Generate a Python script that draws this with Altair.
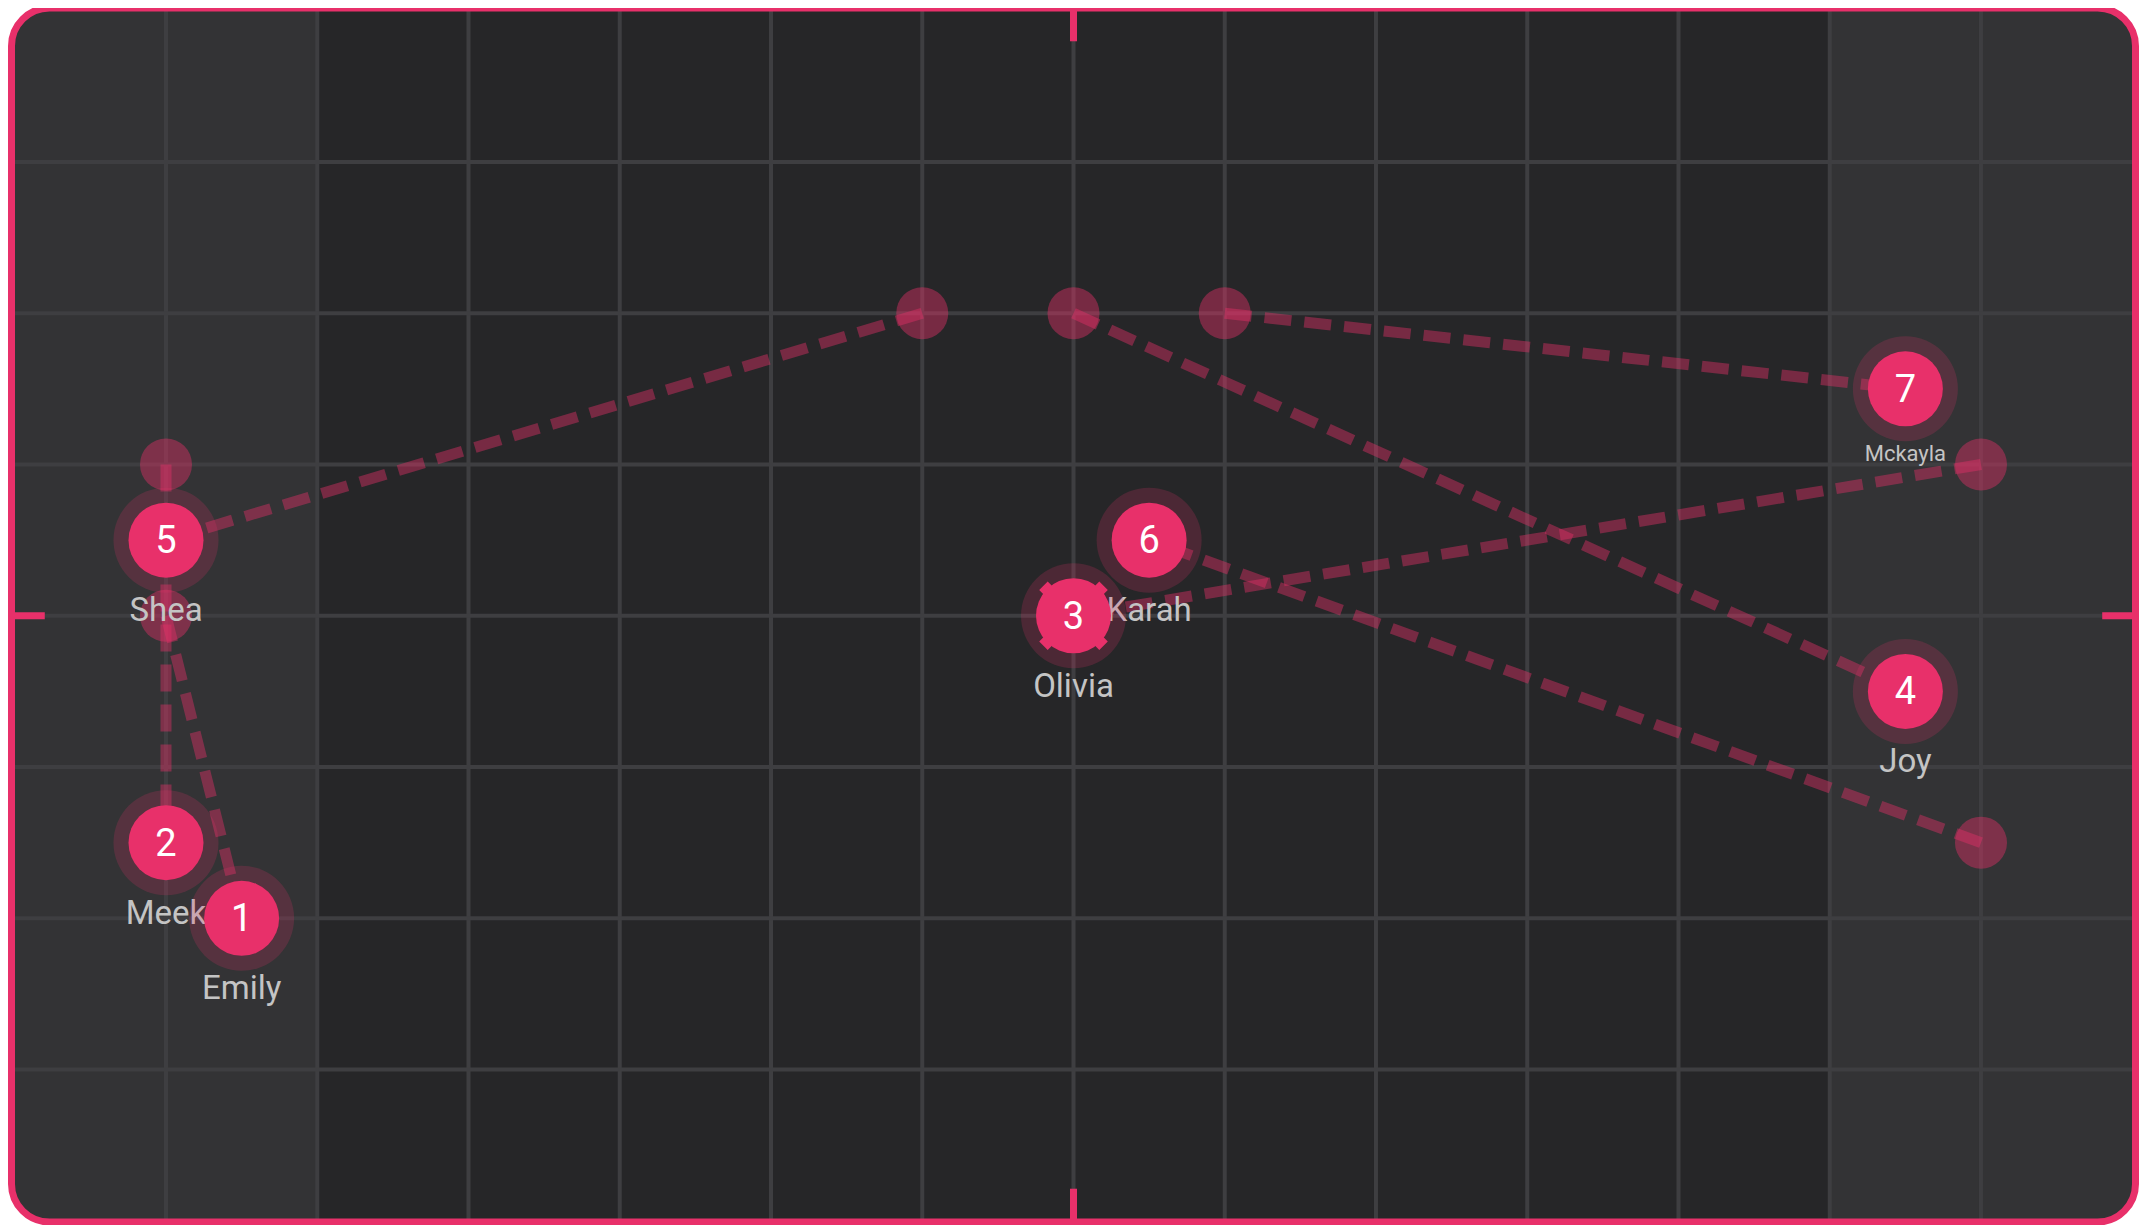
import math
import altair as alt
import pandas as pd

# ---------------- data ----------------
names = ["Emily", "Meek", "Olivia", "Joy", "Shea", "Karah", "Mckayla"]
nums = [1, 2, 3, 4, 5, 6, 7]
cur_x = [-5.5, -6.0, 0.0, 5.5, -6.0, 0.5, 5.5]
cur_y = [-2.0, -1.5, 0.0, -0.5, 0.5, 0.5, 1.5]
prev_x = [-6.0, -6.0, 6.0, 0.0, -1.0, 6.0, 1.0]
prev_y = [0.0, 1.0, 1.0, 2.0, 2.0, -1.5, 2.0]
selected = [False, False, True, False, False, False, False]

x_domain = [-7.0215, 7.0215]
y_domain = [-4.008, 4.018]
grid_x = [-6, -5, -4, -3, -2, -1, 0, 1, 2, 3, 4, 5, 6]
grid_y = [-3, -2, -1, 0, 1, 2, 3]
dark_band = [-5, 5]

# ---------------- styles ----------------
PINK = "#E8306A"
DARK = "#262628"
LIGHT = "#333335"
GRID = "#3e3e41"
LABEL = "#c4c4c4"
FONT = "Roboto"

W, H = 2131, 1217
xs = alt.Scale(domain=x_domain, range=[3.5, 2127.5], nice=False, zero=False)
ys = alt.Scale(domain=y_domain, range=[1214, 0], nice=False, zero=False)

pts = pd.DataFrame({
    "name": names, "num": [str(n) for n in nums],
    "x": cur_x, "y": cur_y, "px": prev_x, "py": prev_y,
    "selected": selected,
})

frame = pd.DataFrame({"x0": [x_domain[0]], "x1": [x_domain[1]],
                      "y0": [y_domain[0]], "y1": [y_domain[1]]})
mid = pd.DataFrame({"x0": [dark_band[0]], "x1": [dark_band[1]],
                    "y0": [y_domain[0]], "y1": [y_domain[1]]})

tick_len = 0.22
over = 0.06
ticks = pd.DataFrame({
    "x0": [0, 0, x_domain[0] - over, x_domain[1] - tick_len],
    "x1": [0, 0, x_domain[0] + tick_len, x_domain[1] + over],
    "y0": [y_domain[1], y_domain[0], 0, 0],
    "y1": [y_domain[1] - tick_len, y_domain[0] + tick_len, 0, 0],
})

X = lambda f: alt.X(f, type="quantitative", scale=xs, axis=None)
Y = lambda f: alt.Y(f, type="quantitative", scale=ys, axis=None)

bg = alt.Chart(frame).mark_rect(color=LIGHT, cornerRadius=38).encode(
    x=X("x0"), x2="x1", y=Y("y0"), y2="y1")
middle = alt.Chart(mid).mark_rect(color=DARK).encode(
    x=X("x0"), x2="x1", y=Y("y0"), y2="y1")

vgrid = alt.Chart(pd.DataFrame({"g": grid_x, "a": y_domain[0], "b": y_domain[1]})).mark_rule(
    color=GRID, strokeWidth=4).encode(x=X("g"), y=Y("a"), y2="b")
hgrid = alt.Chart(pd.DataFrame({"g": grid_y, "a": x_domain[0], "b": x_domain[1]})).mark_rule(
    color=GRID, strokeWidth=4).encode(y=Y("g"), x=X("a"), x2="b")

border = alt.Chart(frame).mark_rect(filled=False, stroke=PINK, strokeWidth=7,
                                    cornerRadius=38, fillOpacity=0).encode(
    x=X("x0"), x2="x1", y=Y("y0"), y2="y1")

tick_marks = alt.Chart(ticks).mark_rule(color=PINK, strokeWidth=7).encode(
    x=X("x0"), x2="x1", y=Y("y0"), y2="y1")

lines = alt.Chart(pts).mark_rule(color=PINK, opacity=0.42, strokeWidth=11,
                                 strokeDash=[27, 13], strokeCap="butt").encode(
    x=X("px"), y=Y("py"), x2="x", y2="y")

# Vega circle symbols: radius = sqrt(size) / 2
faint = alt.Chart(pts).mark_circle(color=PINK, opacity=0.42, size=52 ** 2).encode(
    x=X("px"), y=Y("py"))

labels = alt.Chart(pts).transform_calculate(
    fs="length(datum.name) > 6 ? 22 : 33"
).mark_text(color=LABEL, font=FONT, baseline="top", align="center", dy=55).encode(
    x=X("x"), y=Y("y"), text="name:N", size=alt.Size("fs:Q", scale=None, legend=None))

halo = alt.Chart(pts).mark_circle(color=PINK, opacity=0.2, size=105 ** 2).encode(
    x=X("x"), y=Y("y"))
inner = alt.Chart(pts).mark_circle(color=PINK, opacity=1, size=75 ** 2).encode(
    x=X("x"), y=Y("y"))

# small notches around the selected point
half = 45.0
parts = []
for sx, sy in [(-1, -1), (1, -1), (1, 1), (-1, 1)]:
    rx, ry = sx / math.sqrt(2), sy / math.sqrt(2)
    tx, ty = -ry, rx
    cx, cy = 39 * rx, 39 * ry
    corners = []
    for a, b in [(6, 3.5), (-6, 3.5), (-6, -3.5), (6, -3.5)]:
        corners.append(((cx + a * tx + b * rx) / half, (cy + a * ty + b * ry) / half))
    parts.append("M" + " L".join(f"{p:.4f},{q:.4f}" for p, q in corners) + " Z")
notch_path = " ".join(parts)

notches = alt.Chart(pts).transform_filter("datum.selected").mark_point(
    shape=notch_path, filled=True, color=PINK, opacity=1, size=(2 * half) ** 2,
    strokeWidth=0).encode(x=X("x"), y=Y("y"))

numbers = alt.Chart(pts).mark_text(color="white", font=FONT, fontSize=38,
                                   align="center", baseline="middle", dy=2).encode(
    x=X("x"), y=Y("y"), text="num:N")

chart = alt.layer(
    bg, middle, vgrid, hgrid, lines, faint, labels, halo, inner, notches, numbers,
    tick_marks, border
).properties(
    width=W, height=H, padding=0, autosize=alt.AutoSizeParams(type="none"),
    background="white"
).configure_view(stroke="transparent")

chart.save("out.html", embed_options={"renderer": "svg", "actions": False})
